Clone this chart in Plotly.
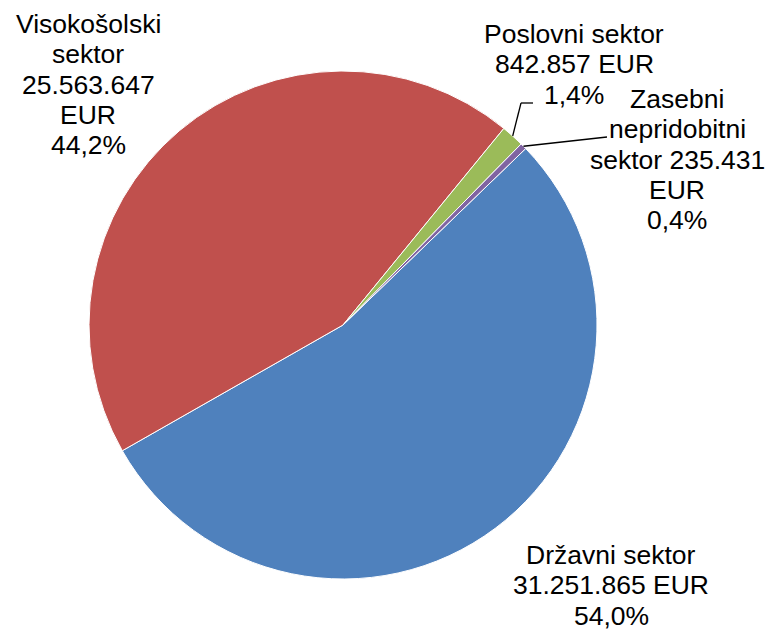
"""Pie chart: R&D funding by sector (EUR)."""

import math
import plotly.graph_objects as go

W, H = 767, 632

sectors = ["Državni sektor", "Visokošolski sektor", "Poslovni sektor",
           "Zasebni nepridobitni sektor"]
amounts = [31251865, 25563647, 842857, 235431]
# shares as printed on the chart
pct_labels = ["54,0%", "44,2%", "1,4%", "0,4%"]
colors = ["#4F81BD", "#C0504D", "#9BBB59", "#8064A2"]

# how many words go on each label line (mirrors the wrapping in the original)
wrap_words = [[2, 2, 1], [1, 1, 1, 1, 1], [2, 2, 1], [1, 1, 2, 1, 1]]
# label anchor: centre x and centre of first line, in pixels
label_pos = [(611, 555), (88, 24), (574, 34), (677, 99)]
LINE_H = 30.3

# pie geometry in pixels
CX, CY, R = 343, 325, 254
ROTATION = 46

total = sum(amounts)


def fmt_amount(v):
    return f"{v:,}".replace(",", ".")


def px(x):
    return x / W


def py(y):
    return 1 - y / H


fig = go.Figure(go.Pie(
    labels=sectors,
    values=amounts,
    sort=False,
    direction="clockwise",
    rotation=ROTATION,
    marker=dict(colors=colors, line=dict(color="white", width=1)),
    textinfo="none",
    hovertemplate="%{label}<br>%{value:,} EUR<br>%{percent}<extra></extra>",
    domain=dict(x=[px(CX - R), px(CX + R)], y=[py(CY + R), py(CY - R)]),
    showlegend=False,
))

# outside labels, one annotation per line
annotations = []
for name, amt, pct, words_per_line, (lx, ly) in zip(
        sectors, amounts, pct_labels, wrap_words, label_pos):
    words = f"{name} {fmt_amount(amt)} EUR {pct}".split(" ")
    k = 0
    for i, n in enumerate(words_per_line):
        line = " ".join(words[k:k + n])
        k += n
        annotations.append(dict(
            x=px(lx), y=py(ly + i * LINE_H), xref="paper", yref="paper",
            text=line, showarrow=False, xanchor="center", yanchor="middle",
            font=dict(size=26.5, color="#000000"),
        ))


# leader lines for the two thin slices, starting at the slice mid-angle
def edge_point(idx):
    before = sum(amounts[:idx]) + amounts[idx] / 2
    ang = math.radians(ROTATION + before / total * 360)
    return CX + R * math.sin(ang), CY - R * math.cos(ang)


leaders = {2: [(521, 103), (533, 103)], 3: [(607, 137)]}
shapes = []
for idx, pts in leaders.items():
    path = [edge_point(idx)] + pts
    for (x0, y0), (x1, y1) in zip(path[:-1], path[1:]):
        shapes.append(dict(
            type="line", xref="paper", yref="paper",
            x0=px(x0), y0=py(y0), x1=px(x1), y1=py(y1),
            line=dict(color="#000000", width=1.3),
        ))

fig.update_layout(
    width=W,
    height=H,
    margin=dict(l=0, r=0, t=0, b=0),
    paper_bgcolor="white",
    plot_bgcolor="white",
    font=dict(family="Arial, Liberation Sans, sans-serif", size=26.5, color="#000000"),
    annotations=annotations,
    shapes=shapes,
)

# drop the browser's default page margin so the figure sits at the top-left
fig.write_html(
    "out.html",
    config={"displayModeBar": False},
    post_script="document.body.style.margin='0';",
)
